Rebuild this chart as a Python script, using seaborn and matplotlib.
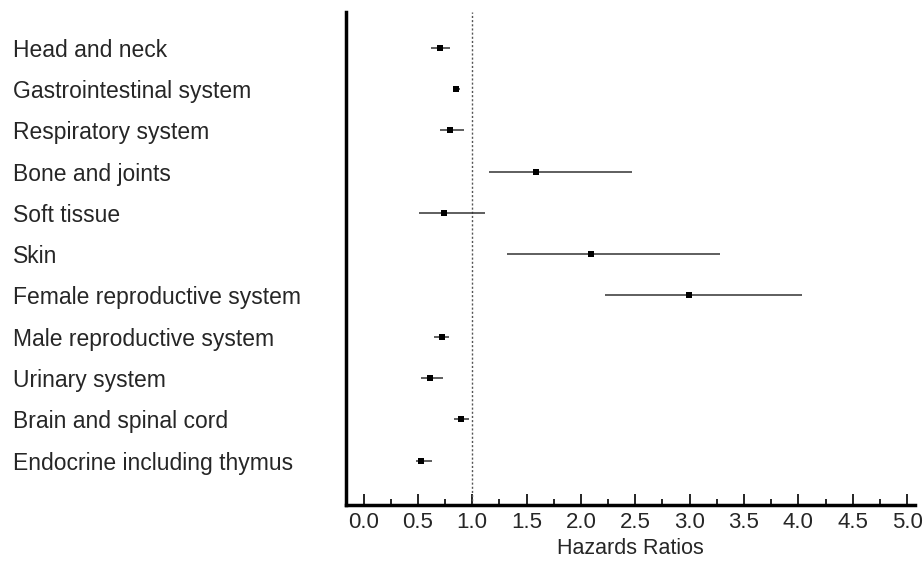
import numpy as np
import pandas as pd
import matplotlib
matplotlib.use("Agg")
import matplotlib.pyplot as plt
import seaborn as sns
from matplotlib.ticker import MultipleLocator

# values
sites = ["Head and neck", "Gastrointestinal system", "Respiratory system",
         "Bone and joints", "Soft tissue", "Skin", "Female reproductive system",
         "Male reproductive system", "Urinary system", "Brain and spinal cord",
         "Endocrine including thymus"]
hr = [0.70, 0.85, 0.80, 1.59, 0.74, 2.09, 2.99, 0.72, 0.61, 0.90, 0.53]
lower = [0.62, 0.83, 0.70, 1.15, 0.51, 1.32, 2.22, 0.65, 0.53, 0.83, 0.485]
upper = [0.80, 0.89, 0.92, 2.47, 1.12, 3.28, 4.03, 0.79, 0.73, 0.97, 0.63]

df = pd.DataFrame({"site": sites, "hr": hr, "lower": lower, "upper": upper})
df["row"] = np.arange(len(df))

sns.set_style("white")
plt.rcParams["font.family"] = ["Liberation Sans", "DejaVu Sans"]

fig = plt.figure(figsize=(9.23, 5.64), dpi=100)
ax = fig.add_axes([0.375, 0.105, 0.616, 0.874])

# confidence intervals
ax.hlines(df["row"], df["lower"], df["upper"], color="#333333", lw=1.1, zorder=2)
sns.scatterplot(data=df, x="hr", y="row", marker="s", s=13, color="black",
                edgecolor="black", linewidth=0, ax=ax, zorder=3, legend=False)

# reference line at HR = 1
ax.axvline(1.0, color="#555555", lw=1, ls=(0, (1.5, 1.5)), zorder=1)

ax.set_xlim(-0.16, 5.07)
ax.set_ylim(11.07, -0.87)
ax.set_yticks(df["row"])
ax.set_yticklabels(df["site"], ha="left", fontsize=16.5)
ax.tick_params(axis="y", length=0, pad=240)

ax.xaxis.set_minor_locator(MultipleLocator(0.25))
ax.set_xticks(np.arange(0, 5.01, 0.5))
ax.set_xticklabels([f"{v:.1f}" for v in np.arange(0, 5.01, 0.5)], fontsize=16)
ax.tick_params(axis="x", which="major", direction="in", length=8, width=1.2,
               color="black", pad=5, bottom=True)
ax.tick_params(axis="x", which="minor", direction="in", length=4, width=1.2,
               color="black", bottom=True)

ax.set_xlabel("Hazards Ratios", fontsize=15.5, labelpad=4)
ax.set_ylabel("")

for side in ["top", "right"]:
    ax.spines[side].set_visible(False)
for side in ["left", "bottom"]:
    ax.spines[side].set_color("black")
    ax.spines[side].set_linewidth(2.5)

fig.savefig("out.png", dpi=100)
